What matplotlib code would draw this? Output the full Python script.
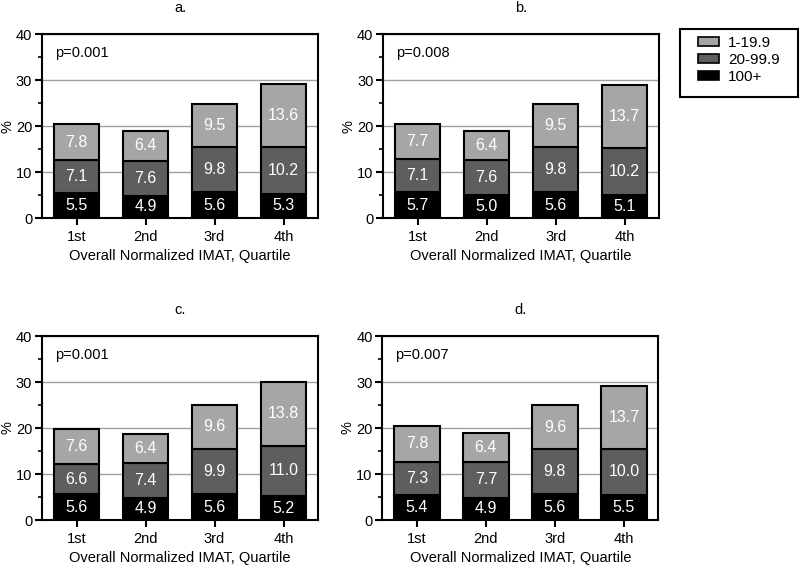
import matplotlib.pyplot as plt
import numpy as np
from matplotlib.patches import Patch, Rectangle

plt.rcParams['font.family'] = ['Liberation Sans', 'DejaVu Sans']

# Dados dos quatro painéis (percentuais por quartil)
quartis = ['1st', '2nd', '3rd', '4th']
paineis = ['a.', 'b.', 'c.', 'd.']
p_valores = ['p=0.001', 'p=0.008', 'p=0.001', 'p=0.007']

cat_100 = [[5.5, 4.9, 5.6, 5.3], [5.7, 5.0, 5.6, 5.1],
           [5.6, 4.9, 5.6, 5.2], [5.4, 4.9, 5.6, 5.5]]
cat_20 = [[7.1, 7.6, 9.8, 10.2], [7.1, 7.6, 9.8, 10.2],
          [6.6, 7.4, 9.9, 11.0], [7.3, 7.7, 9.8, 10.0]]
cat_1 = [[7.8, 6.4, 9.5, 13.6], [7.7, 6.4, 9.5, 13.7],
         [7.6, 6.4, 9.6, 13.8], [7.8, 6.4, 9.6, 13.7]]

cores = {'1-19.9': '#a6a6a6', '20-99.9': '#5e5e5e', '100+': '#000000'}

fig = plt.figure(figsize=(8, 5.74), dpi=100)
posicoes = [(0.0525, 0.620), (0.479, 0.620), (0.0525, 0.094), (0.478, 0.094)]

x = np.arange(len(quartis))
for i, (l, b) in enumerate(posicoes):
    ax = fig.add_axes([l, b, 0.345, 0.3206])
    ax.set_axisbelow(True)
    ax.yaxis.grid(True, color='#a0a0a0', linewidth=1)
    base = np.zeros(4)
    for vals, nome in [(cat_100[i], '100+'), (cat_20[i], '20-99.9'), (cat_1[i], '1-19.9')]:
        vals = np.array(vals)
        ax.bar(x, vals, bottom=base, width=0.66, color=cores[nome],
               edgecolor='black', linewidth=1.5)
        for xi, v, b0 in zip(x, vals, base):
            ax.text(xi, b0 + v / 2, f'{v:.1f}', color='white', ha='center',
                    va='center', fontsize=11.5)
        base = base + vals
    ax.set_xlim(-0.5, 3.5)
    ax.set_ylim(0, 40)
    ax.set_yticks([0, 10, 20, 30, 40])
    ax.set_yticks([5, 15, 25, 35], minor=True)
    ax.set_xticks(x)
    ax.set_xticklabels(quartis)
    ax.tick_params(axis='both', which='major', labelsize=10.5, width=1.5, length=5)
    ax.tick_params(axis='y', which='major', pad=2)
    ax.tick_params(axis='y', which='minor', width=1.2, length=3)
    for s in ax.spines.values():
        s.set_linewidth(1.5)
    ax.set_ylabel('%', fontsize=10.5)
    ax.yaxis.set_label_coords(-0.10, 0.5)
    ax.set_xlabel('Overall Normalized IMAT, Quartile', fontsize=10.5, labelpad=4)
    ax.set_title(paineis[i], fontsize=10.5, pad=16)
    ax.text(0.047, 0.897, p_valores[i], transform=ax.transAxes, fontsize=10.5,
            ha='left', va='center')

# Legenda com moldura desenhada à parte
fig.patches.append(Rectangle((680 / 800, 1 - 97 / 574), 118 / 800, 68 / 574,
                             transform=fig.transFigure, fill=False,
                             edgecolor='black', linewidth=1.5))
handles = [Patch(facecolor=cores[k], edgecolor='black', linewidth=1.2, label=k)
           for k in ['1-19.9', '20-99.9', '100+']]
fig.legend(handles=handles, loc='upper left', bbox_to_anchor=(698 / 800, 1 - 36 / 574),
           frameon=False, fontsize=11, borderpad=0, borderaxespad=0,
           handlelength=1.35, handleheight=0.55, labelspacing=0.2,
           handletextpad=0.6)

plt.savefig('out.png', dpi=100)
plt.close(fig)
